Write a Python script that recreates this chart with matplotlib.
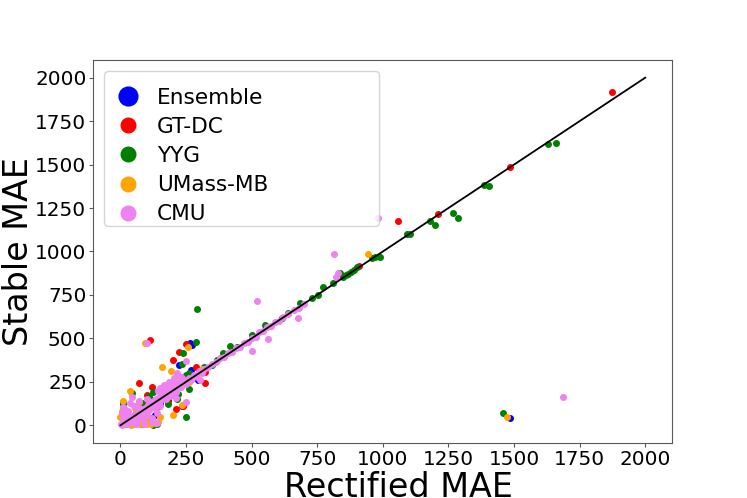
import matplotlib
matplotlib.use('Agg')
import matplotlib.pyplot as plt
from matplotlib.lines import Line2D

# values (Rectified MAE, Stable MAE)
ens_x = [274, 266, 224, 270, 297, 122, 118, 236, 1483, 60, 35, 90, 150, 180, 20, 45, 130, 200, 80, 110]
ens_y = [460, 471, 345, 316, 259, 40, 144, 109, 40, 55, 20, 80, 130, 150, 10, 35, 60, 175, 5, 100]

gt_x = [1875, 1483, 1209, 1057, 909, 114, 202, 224, 289, 323, 323, 72, 122, 213, 103, 141, 240,
        30, 60, 95, 15, 250, 180, 170, 45, 250]
gt_y = [1920, 1488, 1213, 1178, 914, 489, 374, 420, 333, 305, 241, 241, 218, 92, 172, 103, 109,
        40, 70, 120, 25, 250, 140, 190, 10, 470]

yyg_x = [1658, 1631, 1403, 1384, 1266, 1285, 1179, 1198, 1103, 1091, 989, 970, 958, 901, 890,
         878, 868, 858, 848, 836, 810, 772, 753, 730, 684, 639, 616, 551, 502, 445, 418, 392,
         369, 1456, 293, 289, 240, 236, 262, 251, 262, 221, 217, 125, 46, 8, 110, 84, 251, 125,
         20, 10, 60, 100, 140, 160, 180, 200, 320, 350]
yyg_y = [1626, 1621, 1379, 1385, 1224, 1190, 1178, 1155, 1103, 1098, 966, 966, 960, 908, 895,
         884, 871, 863, 856, 879, 816, 793, 747, 730, 701, 644, 615, 575, 517, 448, 454, 414,
         374, 69, 667, 477, 414, 351, 299, 287, 207, 178, 149, 190, 184, 132, 167, 126, 46, 0,
         60, 120, 40, 20, 5, 150, 120, 210, 335, 345]

um_x = [1475, 943, 95, 160, 194, 228, 259, 312, 8, 38, 72, 95, 144, 236, 0, 10, 20, 30, 40, 50,
        60, 70, 80, 100, 120, 130, 150, 5, 25, 55, 90, 115, 200, 260]
um_y = [46, 988, 471, 333, 310, 276, 448, 322, 138, 195, 132, 29, 17, 115, 46, 10, 5, 25, 0, 15,
        5, 20, 10, 5, 35, 15, 50, 80, 60, 100, 60, 5, 60, 250]

cmu_x = [2, 5, 8, 10, 12, 15, 18, 20, 22, 25, 28, 30, 33, 35, 38, 40, 43, 45, 48, 50, 53, 55,
         58, 60, 63, 65, 68, 70, 73, 75, 78, 80, 83, 85, 88, 90, 95, 100, 105, 110, 115, 120,
         125, 130, 135, 140, 145, 150, 155, 160, 165, 170, 175, 180, 185, 190, 195, 200, 205,
         210, 220, 230, 240, 250, 260, 270, 280, 290, 300, 310, 320, 335, 350, 365, 380, 395,
         410, 425, 440, 455, 470, 485, 500, 515, 530, 545, 560, 575, 590, 605, 620, 640, 660,
         680, 700,
         10, 20, 30, 40, 60, 70, 80, 90, 100, 110, 120, 130, 140, 50, 25, 60, 90, 5, 15, 35,
         70, 100, 120, 150, 160, 175, 180, 190, 200, 210, 230, 215, 145, 165, 185, 205,
         8, 46, 103, 152, 213, 251, 251, 304, 141, 563, 502, 677, 521, 814, 829, 821, 981, 1688]
cmu_y = [5, 2, 12, 8, 20, 10, 25, 15, 18, 30, 22, 40, 28, 35, 45, 38, 50, 42, 55, 48, 60, 52,
         65, 58, 70, 62, 75, 66, 80, 72, 85, 78, 90, 82, 95, 86, 100, 92, 115, 105, 125, 112,
         140, 122, 150, 132, 160, 142, 170, 150, 180, 162, 195, 170, 205, 180, 215, 192, 225,
         200, 245, 222, 265, 240, 275, 262, 290, 280, 310, 300, 325, 335, 355, 365, 385, 392,
         415, 420, 445, 450, 475, 480, 505, 510, 535, 540, 565, 572, 595, 600, 625, 640, 665,
         675, 700,
         40, 60, 80, 20, 30, 100, 50, 20, 60, 90, 40, 100, 70, 110, 5, 5, 5, 70, 100, 130,
         140, 150, 20, 110, 180, 150, 225, 170, 240, 190, 280, 300, 200, 230, 250, 270,
         103, 161, 471, 212, 155, 132, 368, 259, 11, 494, 425, 615, 713, 988, 874, 851, 1190, 161]

names = ['Ensemble', 'GT-DC', 'YYG', 'UMass-MB', 'CMU']
colors = ['blue', 'red', 'green', 'orange', 'violet']
xs = [ens_x, gt_x, yyg_x, um_x, cmu_x]
ys = [ens_y, gt_y, yyg_y, um_y, cmu_y]

fig, ax = plt.subplots(figsize=(7.47, 4.98), dpi=100)

for x, y, c, n in zip(xs, ys, colors, names):
    ax.scatter(x, y, s=16, color=c, label=n, zorder=2)

# identity line
ax.plot([0, 2000], [0, 2000], color='black', lw=1.3, zorder=3)

ax.set_xlim(-103, 2103)
ax.set_ylim(-103, 2103)
ax.set_xticks(range(0, 2001, 250))
ax.set_yticks(range(0, 2001, 250))
ax.tick_params(labelsize=14.4, color='0.35', length=3, pad=2)
for sp in ax.spines.values():
    sp.set_color('0.35')

ax.set_xlabel('Rectified MAE', fontsize=24, labelpad=1)
ax.xaxis.label.set_x(0.5276)
ax.set_ylabel('Stable MAE', fontsize=24, labelpad=0)

sizes = [13.5, 10.5, 10.5, 10.5, 10.5]
handles = [Line2D([], [], marker='o', ls='', color=c, markersize=m)
           for c, m in zip(colors, sizes)]
ax.legend(handles, names, loc='upper left', fontsize=15.6, bbox_to_anchor=(0, 0, 0.512, 1),
          mode='expand', handlelength=2.01, handletextpad=0.33, labelspacing=0.42,
          borderpad=0.1, title=' ', title_fontsize=5)

fig.savefig('out.png', dpi=100)
